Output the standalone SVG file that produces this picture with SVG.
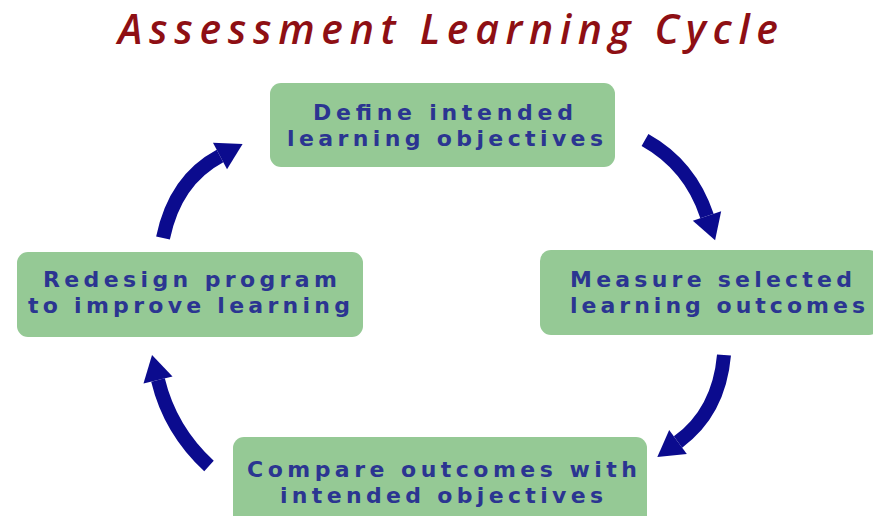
<svg xmlns="http://www.w3.org/2000/svg" width="873" height="516" viewBox="0 0 873 516">
  <style>
    .title { font-family: "Open Sans", "DejaVu Sans", sans-serif; font-style: italic; font-weight: 600; font-size: 41px; fill: #8e0f14; }
    .box { fill: #95c995; }
    .label { font-family: "DejaVu Sans", Verdana, sans-serif; font-weight: bold; font-size: 22px; fill: #2b3591; }
    .arrow { fill: none; stroke: #0b0b8e; stroke-width: 14; stroke-linecap: butt; }
  </style>
  <defs>
    <marker id="head" markerUnits="userSpaceOnUse" markerWidth="32" markerHeight="32" viewBox="0 -15 26 30" refX="0" refY="0" orient="auto">
      <path d="M0,-14 L24,0 L0,14 z" fill="#0b0b8e"/>
    </marker>
  </defs>
  <rect width="873" height="516" fill="#ffffff"/>

  <text class="title" x="118" y="44" textLength="660" lengthAdjust="spacing">Assessment Learning Cycle</text>

  <g id="connectors">
    <path class="arrow" d="M645,140 Q690,165 707,216" marker-end="url(#head)"/>
    <path class="arrow" d="M724,355 Q719,412 678,442" marker-end="url(#head)"/>
    <path class="arrow" d="M209,466 Q170,430 158,380" marker-end="url(#head)"/>
    <path class="arrow" d="M163,238 Q175,180 220,156" marker-end="url(#head)"/>
  </g>

  <g id="define">
    <rect class="box" x="270" y="83" width="345" height="84" rx="11"/>
    <text class="label" x="313" y="120" textLength="260" lengthAdjust="spacing">Define intended</text>
    <text class="label" x="287" y="146" textLength="316" lengthAdjust="spacing">learning objectives</text>
  </g>

  <g id="measure">
    <rect class="box" x="540" y="250" width="340" height="85" rx="11"/>
    <text class="label" x="570" y="287" textLength="282" lengthAdjust="spacing">Measure selected</text>
    <text class="label" x="570" y="313" textLength="295" lengthAdjust="spacing">learning outcomes</text>
  </g>

  <g id="compare">
    <rect class="box" x="233" y="437" width="414" height="90" rx="11"/>
    <text class="label" x="247" y="477" textLength="390" lengthAdjust="spacing">Compare outcomes with</text>
    <text class="label" x="280" y="503" textLength="323" lengthAdjust="spacing">intended objectives</text>
  </g>

  <g id="redesign">
    <rect class="box" x="17" y="252" width="346" height="85" rx="11"/>
    <text class="label" x="43" y="287" textLength="294" lengthAdjust="spacing">Redesign program</text>
    <text class="label" x="28" y="313" textLength="322" lengthAdjust="spacing">to improve learning</text>
  </g>
</svg>
